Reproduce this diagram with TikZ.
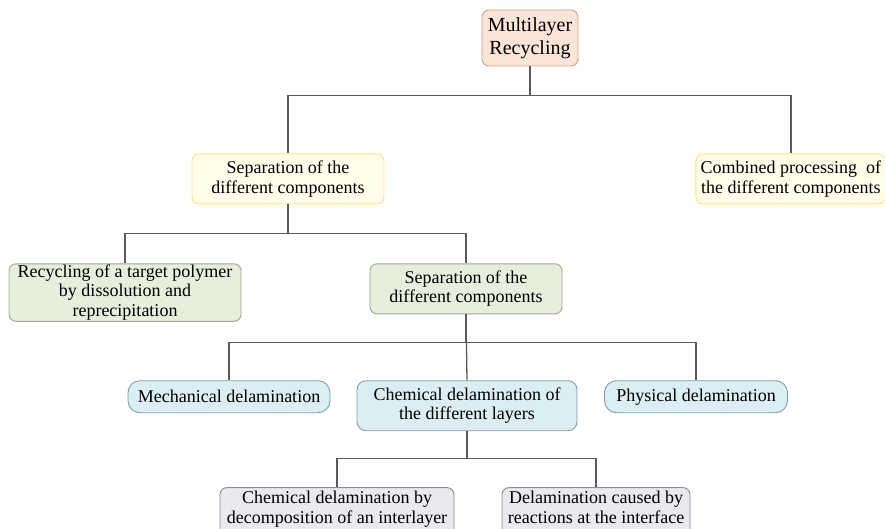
\documentclass[tikz,border=0pt]{standalone}
\usepackage{fontspec}
\setmainfont{Liberation Serif}
\usepackage{xcolor}
\usetikzlibrary{positioning}

\definecolor{rootfill}{HTML}{FBE4D8}
\definecolor{rootline}{HTML}{D9A080}
\definecolor{sepfill}{HTML}{FFFDE9}
\definecolor{sepline}{HTML}{FFE37A}
\definecolor{grnfill}{HTML}{E8EEDC}
\definecolor{grnline}{HTML}{9DA890}
\definecolor{cyanfill}{HTML}{DAEEF3}
\definecolor{cyanline}{HTML}{7E9FA8}
\definecolor{lilfill}{HTML}{ECE8F0}
\definecolor{lilline}{HTML}{8C8A96}
\definecolor{linkgray}{HTML}{5A5A5A}

\begin{document}
\begin{tikzpicture}[
        x=1pt, y=-1pt,
        font=\fontsize{18}{19.5}\selectfont,
        box/.style={rectangle, rounded corners=7pt, line width=0.9pt,
                    align=center, inner sep=1pt},
        topbox/.style={box, draw=rootline, fill=rootfill,
                       minimum width=96pt, minimum height=56pt,
                       font=\fontsize{20}{23}\selectfont},
        sepbox/.style={box, draw=sepline, fill=sepfill,
                       minimum width=192pt, minimum height=50pt},
        grnbox/.style={box, draw=grnline, fill=grnfill, minimum height=50pt},
        delbox/.style={box, rounded corners=12pt, draw=cyanline, fill=cyanfill},
        subbox/.style={box, draw=lilline, fill=lilfill, minimum height=50pt,
                       text depth=11pt},
        link/.style={draw=linkgray, line width=1.3pt}
    ]
        \useasboundingbox (0,0) rectangle (885,529);
        \clip (0,0) rectangle (885,529);

        %--- Level 0 ---
        \node[topbox] (root) at (530,38) {Multilayer\\Recycling};

        %--- Level 1 ---
        \node[sepbox, below=87pt of root, xshift=-242pt] (sep) {Separation of the\\different components};
        \node[sepbox, minimum width=190pt, right=311pt of sep] (comb) {Combined processing\ \ of\\the different components};

        %--- Level 2 ---
        \node[grnbox, minimum width=232pt, minimum height=56pt, below=59pt of sep, xshift=-163pt] (rec)
            {Recycling of a target polymer\\by dissolution and\\reprecipitation};
        \node[grnbox, minimum width=192pt, below=59pt of sep, xshift=178pt] (sepb)
            {Separation of the\\different components};

        %--- Level 3 ---
        \node[delbox, minimum width=202pt, minimum height=32pt, below=66pt of sepb, xshift=-237pt] (mech) {Mechanical delamination};
        \node[delbox, rounded corners=9pt, minimum width=220pt, minimum height=50pt, below=66pt of sepb, xshift=1pt] (chem)
            {Chemical delamination of\\the different layers};
        \node[delbox, minimum width=183pt, minimum height=32pt, below=66pt of sepb, xshift=230pt] (phys) {Physical delamination};

        %--- Level 4 ---
        \node[subbox, minimum width=234pt, below=56pt of chem, xshift=-130pt] (dec)
            {Chemical delamination by\\decomposition of an interlayer};
        \node[subbox, minimum width=188pt, below=56pt of chem, xshift=129pt] (react)
            {Delamination caused by\\reactions at the interface};

        %--- Connectors ---
        \draw[link] (root.south) -- ++(0,29) -| (sep.north);
        \draw[link] (root.south) -- ++(0,29) -| (comb.north);
        \draw[link] (sep.south) -- ++(0,29) -| (rec.north);
        \draw[link] (sep.south) -- ++(0,29) -| (sepb.north);
        \draw[link] (sepb.south) -- ++(0,28) -| (mech.north);
        \draw[link] (sepb.south) -- (chem.north);
        \draw[link] (sepb.south) -- ++(0,28) -| (phys.north);
        \draw[link] (chem.south) -- ++(0,27) -| (dec.north);
        \draw[link] (chem.south) -- ++(0,27) -| (react.north);
    \end{tikzpicture}
\end{document}
